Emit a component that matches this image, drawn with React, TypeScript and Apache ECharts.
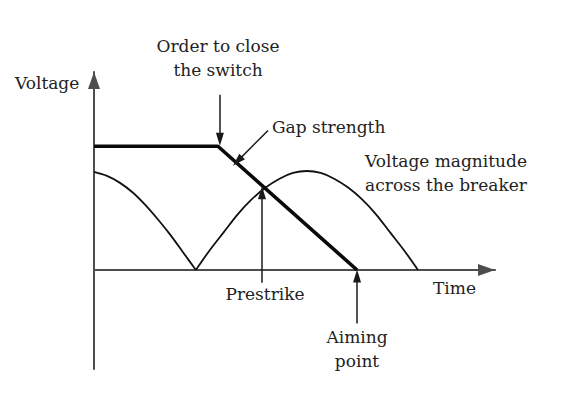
import React, { useEffect, useRef } from "react";
import * as echarts from "echarts";

// Gap strength (thick line): time, value
const gapTime = [0, 30.9, 65.6];
const gapValue = [1.25, 1.25, 0];

// Voltage magnitude across the breaker
const arch1Time = [0, 3.24, 6.48, 9.73, 12.72, 15.96, 18.95, 22.19, 25.4];
const arch1Value = [0.99, 0.95, 0.88, 0.78, 0.66, 0.51, 0.36, 0.18, 0];
const arch2Time = [25.4, 28.86, 32.32, 35.78, 39.24, 42.7, 46.16, 49.62, 53.08, 56.54, 60.0, 63.46, 66.92, 70.38, 73.84, 77.3, 80.8];
const arch2Value = [0, 0.2, 0.38, 0.56, 0.71, 0.83, 0.92, 0.98, 1.0, 0.98, 0.92, 0.83, 0.71, 0.56, 0.38, 0.2, 0];

// Annotation arrows: [fromTime, fromValue, toTime, toValue]
const arrowOrder = [31.4, 1.77, 31.4, 1.32];
const arrowGap = [43.4, 1.41, 35.8, 1.1];
const arrowPrestrike = [41.9, -0.13, 41.9, 0.78];
const arrowAiming = [65.6, -0.54, 65.6, -0.06];

const FONT = "'DejaVu Serif', serif";
const TEXT_COLOR = "#222";

export default function App() {
  const ref = useRef<HTMLDivElement>(null);
  useEffect(() => {
    if (!ref.current) return;
    const chart = echarts.init(ref.current, undefined, { renderer: "svg" });
    const pair = (t: number[], v: number[]) => t.map((x, i) => [x, v[i]]);
    const arrow = (a: number[]) => [
      { coord: [a[0], a[1]] },
      { coord: [a[2], a[3]] },
    ];
    const txt = (text: string, x: number, y: number, align = "center") => ({
      type: "text",
      x,
      y,
      silent: true,
      style: {
        text,
        fontFamily: FONT,
        fontSize: 17,
        fill: TEXT_COLOR,
        align,
        verticalAlign: "middle",
      },
    });
    const axisLine = {
      show: true,
      symbol: ["none", "triangle"],
      symbolSize: [12, 17],
      symbolOffset: [0, -8.5],
      lineStyle: { color: "#4d4d4d", width: 2 },
    };
    chart.setOption({
      animation: false,
      grid: { left: 94, right: 69, top: 72, bottom: 32, containLabel: false },
      xAxis: {
        type: "value",
        min: 0,
        max: 100,
        axisLine: { ...axisLine, onZero: true },
        axisTick: { show: false },
        axisLabel: { show: false },
        splitLine: { show: false },
      },
      yAxis: {
        type: "value",
        min: -1,
        max: 2,
        axisLine,
        axisTick: { show: false },
        axisLabel: { show: false },
        splitLine: { show: false },
      },
      series: [
        {
          type: "line",
          data: pair(arch1Time, arch1Value),
          smooth: 0.3,
          showSymbol: false,
          lineStyle: { color: "#111", width: 1.8 },
          silent: true,
        },
        {
          type: "line",
          data: pair(arch2Time, arch2Value),
          smooth: 0.3,
          showSymbol: false,
          lineStyle: { color: "#111", width: 1.8 },
          silent: true,
        },
        {
          type: "line",
          data: pair(gapTime, gapValue),
          showSymbol: false,
          lineStyle: { color: "#0a0a0a", width: 3.6 },
          silent: true,
          z: 3,
          markLine: {
            silent: true,
            symbol: ["none", "triangle"],
            symbolSize: [8, 13],
            label: { show: false },
            lineStyle: { color: "#1a1a1a", width: 1.5, type: "solid" },
            data: [arrow(arrowOrder), arrow(arrowGap), arrow(arrowPrestrike), arrow(arrowAiming)],
          },
        },
      ],
      graphic: [
        txt("Voltage", 15, 83, "left"),
        txt("Order to close", 218, 46),
        txt("the switch", 218, 70),
        txt("Gap strength", 272, 127, "left"),
        txt("Voltage magnitude", 446, 161),
        txt("across the breaker", 446, 185),
        txt("Time", 433, 288, "left"),
        txt("Prestrike", 265, 294),
        txt("Aiming", 357, 337),
        txt("point", 357, 361),
      ],
    });
    return () => chart.dispose();
  }, []);
  return (
    <div
      ref={ref}
      style={{ position: "absolute", left: 0, top: 0, width: 564, height: 401 }}
    />
  );
}
